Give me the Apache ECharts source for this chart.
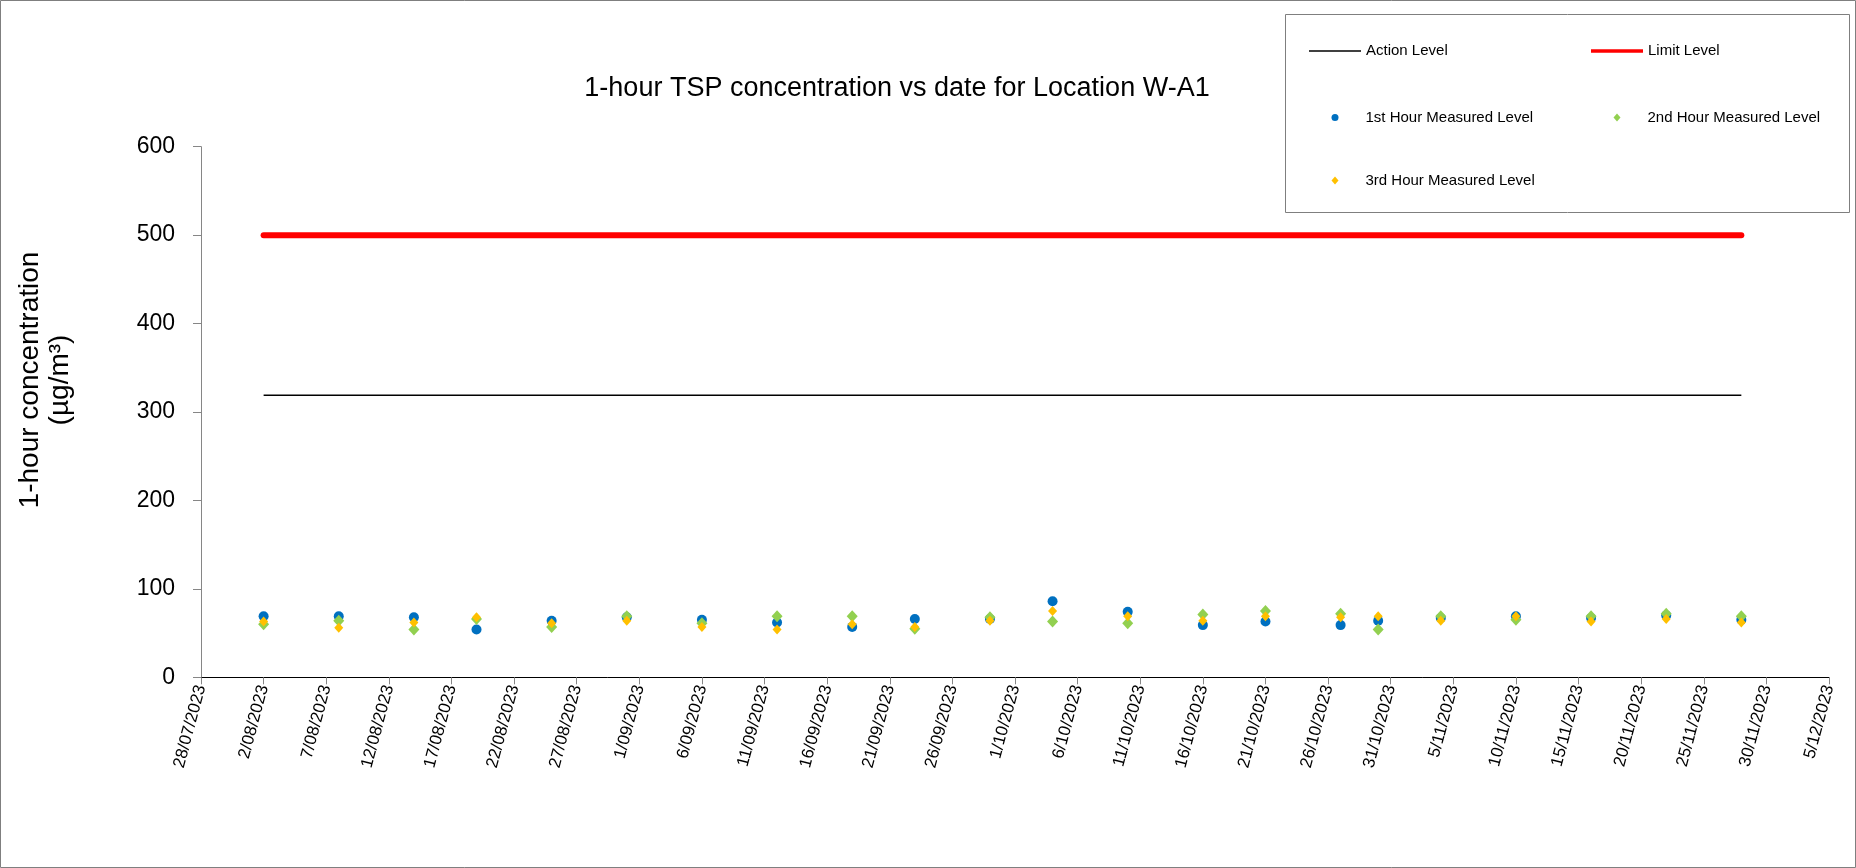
<!DOCTYPE html>
<html>
<head>
<meta charset="utf-8">
<script src="https://cdn.jsdelivr.net/npm/echarts@6/dist/echarts.min.js"></script>
<style>
  html, body { margin: 0; padding: 0; background: #fff; }
  #container { width: 1856px; height: 868px; }
</style>
</head>
<body>
<div id="container"></div>
<script>
// sampling dates (d/mm/yyyy)
var dates = ['2/08/2023', '8/08/2023', '14/08/2023', '19/08/2023', '25/08/2023', '31/08/2023',
  '6/09/2023', '12/09/2023', '18/09/2023', '23/09/2023', '29/09/2023', '4/10/2023',
  '10/10/2023', '16/10/2023', '21/10/2023', '27/10/2023', '30/10/2023', '4/11/2023',
  '10/11/2023', '16/11/2023', '22/11/2023', '28/11/2023'];
var hour1 = [69, 69, 68, 54, 64, 68, 65, 62, 57, 66, 66, 86, 74, 59, 63, 59, 64, 67, 69, 67, 70, 65];
var hour2 = [60, 64, 54, 66, 57, 69, 61, 69, 69, 55, 68, 63, 61, 71, 75, 72, 54, 69, 65, 69, 72, 69];
var hour3 = [63, 56, 62, 68, 61, 64, 57, 54, 60, 57, 64, 75, 69, 64, 69, 68, 69, 64, 69, 63, 66, 62];
var actionLevel = 319;
var limitLevel = 500;
var axisStart = '28/07/2023', axisEnd = '5/12/2023';

// date string -> excel style serial day number
function toSerial(s) {
  var p = s.split('/');
  return Date.UTC(+p[2], +p[1] - 1, +p[0]) / 86400000 + 25569;
}
function fromSerial(n) {
  var d = new Date((n - 25569) * 86400000);
  var m = d.getUTCMonth() + 1;
  return d.getUTCDate() + '/' + (m < 10 ? '0' : '') + m + '/' + d.getUTCFullYear();
}
function pairs(vals) {
  var out = [];
  for (var i = 0; i < dates.length; i++) {
    out.push([toSerial(dates[i]), vals[i]]);
  }
  return out;
}
function levelLine(v) {
  return [[toSerial(dates[0]), v], [toSerial(dates[dates.length - 1]), v]];
}

var myChart = echarts.init(document.getElementById('container'));
var font = 'Arial, "Liberation Sans", sans-serif';

function legendItem(name, icon, left, top, w, h, textPad) {
  return {
    data: [{ name: name, icon: icon }],
    left: left,
    top: top,
    padding: 0,
    itemWidth: w,
    itemHeight: h,
    itemGap: 0,
    itemTextGap: 6,
    selectedMode: false,
    textStyle: { fontFamily: font, fontSize: 15, color: '#000', lineHeight: 18, padding: [0, 0, 0, textPad] }
  };
}

option = {
  backgroundColor: '#fff',
  animation: false,
  textStyle: { fontFamily: font },
  grid: { left: 201, right: 27, top: 146.7, bottom: 190.7 },
  legend: [
    legendItem('Action Level', 'rect', 1309, 42, 52, 1.5, 0),
    legendItem('Limit Level', 'rect', 1591, 42, 52, 3.5, 0),
    legendItem('1st Hour Measured Level', 'circle', 1331.5, 108.5, 7, 7, 22),
    legendItem('2nd Hour Measured Level', 'diamond', 1613.5, 108.5, 7, 8, 22),
    legendItem('3rd Hour Measured Level', 'diamond', 1331.5, 171.5, 7, 8, 22)
  ],
  graphic: [
    {
      type: 'rect', z: -1,
      shape: { x: 0.5, y: 0.5, width: 1855, height: 867 },
      style: { fill: null, stroke: '#7f7f7f', lineWidth: 1 }
    },
    {
      type: 'rect',
      shape: { x: 1285.5, y: 14.5, width: 564, height: 198 },
      style: { fill: null, stroke: '#7f7f7f', lineWidth: 1 }
    },
    {
      type: 'text', x: 897, y: 89,
      style: {
        text: '1-hour TSP concentration vs date for Location W-A1',
        font: '27px ' + font, fill: '#000', align: 'center', verticalAlign: 'middle'
      }
    },
    {
      type: 'text', x: 45, y: 380, rotation: Math.PI / 2,
      style: {
        text: '1-hour concentration\n(µg/m³)',
        font: '28px ' + font, fill: '#000', align: 'center', verticalAlign: 'middle',
        lineHeight: 30
      }
    }
  ],
  xAxis: {
    type: 'value',
    min: toSerial(axisStart),
    max: toSerial(axisEnd),
    interval: 5,
    splitLine: { show: false },
    axisLine: { lineStyle: { color: '#000', width: 1 } },
    axisTick: { length: 7, lineStyle: { color: '#868686' } },
    axisLabel: {
      rotate: 75,
      margin: 8,
      fontSize: 17,
      color: '#000',
      formatter: function (v) { return fromSerial(v); }
    }
  },
  yAxis: {
    type: 'value',
    min: 0,
    max: 600,
    interval: 100,
    splitLine: { show: false },
    axisLine: { show: true, lineStyle: { color: '#868686', width: 1 } },
    axisTick: { show: true, length: 8, lineStyle: { color: '#868686' } },
    axisLabel: { fontSize: 23, color: '#000', margin: 26 }
  },
  series: [
    {
      name: 'Action Level', type: 'line', symbol: 'none',
      data: levelLine(actionLevel),
      lineStyle: { color: '#000', width: 1.5 },
      itemStyle: { color: '#000' }
    },
    {
      name: 'Limit Level', type: 'line', symbol: 'none',
      data: levelLine(limitLevel),
      lineStyle: { color: '#ff0000', width: 6, cap: 'round' },
      itemStyle: { color: '#ff0000' }
    },
    {
      name: '1st Hour Measured Level', type: 'scatter', symbol: 'circle', symbolSize: 10,
      data: pairs(hour1),
      itemStyle: { color: '#0070c0', opacity: 1 }
    },
    {
      name: '2nd Hour Measured Level', type: 'scatter', symbol: 'diamond', symbolSize: [11, 12],
      data: pairs(hour2),
      itemStyle: { color: '#92d050', opacity: 1 }
    },
    {
      name: '3rd Hour Measured Level', type: 'scatter', symbol: 'diamond', symbolSize: [9, 10],
      data: pairs(hour3),
      itemStyle: { color: '#ffc000', opacity: 1 }
    }
  ]
};
myChart.setOption(option, true);
</script>
</body>
</html>
